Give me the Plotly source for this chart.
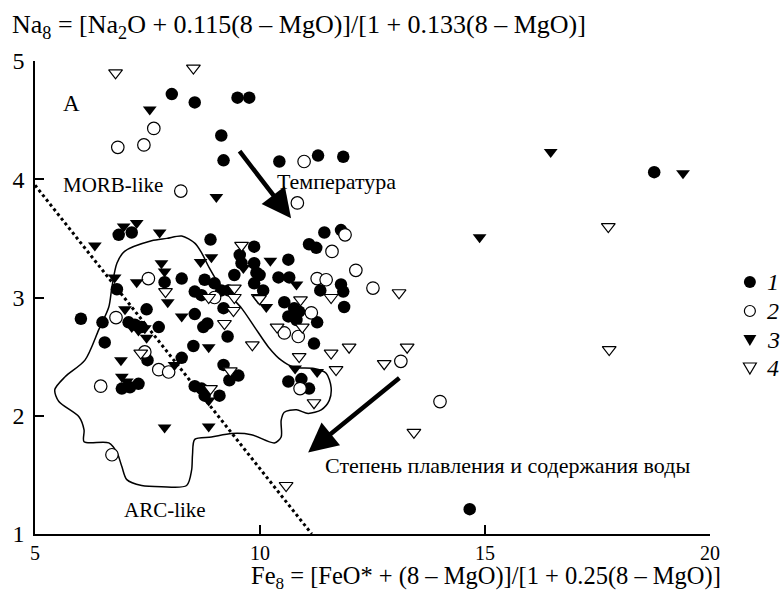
import plotly.graph_objects as go

# ---------------- data ----------------
s1_x = [8.04, 8.55, 9.50, 9.76, 9.14, 9.19, 10.43, 11.29, 11.85,
        6.86, 7.15, 8.90, 9.87, 11.43, 11.80, 11.09, 11.25,
        9.55, 9.59, 9.87, 9.92, 6.82, 7.88, 8.26, 8.77, 8.99,
        8.55, 8.70, 9.14, 9.30, 9.43, 9.87, 10.63, 9.99, 10.41, 10.65,
        10.07, 11.34, 11.80, 11.85, 11.87, 10.54, 10.76, 10.87, 10.63, 10.81,
        11.27, 11.20,
        6.02, 6.50, 7.48, 7.08, 7.22, 7.37, 7.75, 8.55, 8.74, 8.83, 9.19, 9.28,
        6.55, 8.52, 7.50, 8.26, 9.19, 9.52, 9.32, 6.93, 7.11, 7.30, 8.55, 8.70, 8.77, 9.10,
        10.63, 10.92, 11.09, 14.66, 18.76]
s1_y = [4.72, 4.65, 4.69, 4.69, 4.37, 4.16, 4.15, 4.20, 4.19,
        3.53, 3.55, 3.49, 3.43, 3.55, 3.57, 3.45, 3.42,
        3.36, 3.29, 3.29, 3.21, 3.07, 3.13, 3.16, 3.15, 3.12,
        3.05, 3.02, 3.06, 3.06, 3.19, 3.12, 3.32, 3.19, 3.17, 3.17,
        3.06, 3.06, 3.11, 3.05, 2.92, 2.96, 2.91, 2.88, 2.84, 2.81,
        2.79, 2.61,
        2.82, 2.79, 2.90, 2.79, 2.77, 2.75, 2.75, 2.86, 2.75, 2.78, 2.91, 2.67,
        2.62, 2.59, 2.47, 2.49, 2.43, 2.34, 2.30, 2.23, 2.24, 2.27, 2.25, 2.23, 2.17, 2.17,
        2.29, 2.31, 2.23, 1.21, 4.06]

s2_x = [7.64, 6.84, 7.42, 8.24, 10.98, 10.83, 11.89, 11.60, 12.13, 12.51,
        7.52, 8.99, 11.27, 11.47, 11.14, 10.54, 10.85, 6.80, 7.44, 7.75, 7.97,
        6.46, 10.89, 13.13, 14.00, 6.71]
s2_y = [4.43, 4.27, 4.29, 3.90, 4.15, 3.80, 3.53, 3.39, 3.23, 3.08,
        3.16, 3.00, 3.16, 3.15, 2.87, 2.70, 2.67, 2.83, 2.54, 2.39, 2.37,
        2.25, 2.23, 2.46, 2.12, 1.67]

s3_x = [7.55, 9.03, 6.97, 7.26, 7.77, 6.33, 16.46, 19.40, 14.88,
        6.77, 7.26, 7.81, 7.88, 7.95, 8.68, 8.92, 9.63, 10.23, 10.81, 10.14,
        7.00, 7.15, 7.30, 7.44, 7.48, 8.26, 8.86, 6.91, 8.10, 6.93, 7.04, 8.86,
        7.88, 8.86, 10.78, 11.27]
s3_y = [4.59, 3.85, 3.60, 3.63, 3.55, 3.44, 4.23, 4.05, 3.51,
        3.17, 3.13, 3.29, 3.22, 2.96, 3.30, 3.34, 3.25, 3.31, 3.11, 2.92,
        2.90, 2.75, 2.72, 2.74, 2.66, 2.84, 2.58, 2.47, 2.43, 2.33, 2.29, 2.13,
        1.90, 1.91, 2.40, 2.37]

s4_x = [6.79, 8.52, 9.59, 17.74, 17.76, 13.09, 7.90, 8.86, 9.43, 9.43, 9.96,
        9.21, 9.41, 9.83, 7.35, 9.34, 8.90, 11.58, 9.99, 10.90, 10.38, 10.94,
        10.87, 11.58, 11.98, 13.27, 12.76, 11.69, 11.20, 13.42, 10.58]
s4_y = [4.90, 4.94, 3.44, 3.60, 2.56, 3.04, 3.05, 3.00, 3.08, 3.00, 3.00,
        2.78, 2.89, 2.60, 2.53, 2.38, 2.23, 3.00, 2.99, 2.98, 2.75, 2.75,
        2.50, 2.53, 2.58, 2.58, 2.44, 2.39, 2.11, 1.86, 1.41]

legend_labels = ["1", "2", "3", "4"]

# ARC-like field outline
arc_x = [8.26, 8.55, 8.70, 8.86, 9.08, 9.37, 9.59, 9.88, 10.19, 10.47, 10.76,
         11.20, 11.47, 11.58, 11.54, 11.36, 11.07, 10.81, 10.54, 10.47, 10.47,
         10.32, 9.81, 9.37, 8.92, 8.55, 8.50, 8.48, 8.37, 7.81, 7.37, 7.04,
         6.93, 6.82, 6.64, 6.09, 6.09, 5.98, 5.53, 5.44, 5.67, 6.11, 6.42,
         6.64, 6.71, 6.82, 6.99, 7.59, 7.93, 8.26]
arc_y = [3.52, 3.46, 3.38, 3.26, 3.12, 3.00, 2.91, 2.75, 2.58, 2.47, 2.41,
         2.40, 2.36, 2.24, 2.13, 2.05, 2.02, 2.05, 2.03, 1.96, 1.82,
         1.77, 1.84, 1.85, 1.82, 1.80, 1.67, 1.54, 1.41, 1.40, 1.41, 1.46,
         1.57, 1.69, 1.77, 1.78, 1.88, 1.99, 2.12, 2.22, 2.33, 2.47, 2.73,
         2.92, 3.09, 3.29, 3.39, 3.48, 3.50, 3.52]

# MORB / ARC dividing line
div_x = [5.0, 11.15]
div_y = [3.95, 1.0]

# arrows: (start_x, start_y, end_x, end_y)
temp_arrow = [9.52, 4.25, 10.69, 3.67]
melt_arrow = [13.13, 2.33, 11.07, 1.69]

serif = "Liberation Serif, Times New Roman, serif"

# ---------------- page geometry (pixels) ----------------
W, H = 783, 594
ML, MR, MT, MB = 33, 73, 61, 60
PW, PH = W - ML - MR, H - MT - MB


def px2paper(px, py):
    return (px - ML) / PW, (H - MB - py) / PH


fig = go.Figure()

fig.add_trace(go.Scatter(x=arc_x, y=arc_y, mode="lines",
                         line=dict(color="black", width=1.5, shape="spline", smoothing=0.8),
                         showlegend=False, hoverinfo="skip"))
fig.add_trace(go.Scatter(x=div_x, y=div_y, mode="lines",
                         line=dict(color="black", width=3, dash="dot"),
                         showlegend=False, hoverinfo="skip"))

csize = 12.5
tsize = 12
fig.add_trace(go.Scatter(x=s1_x, y=s1_y, mode="markers", name="1", showlegend=False,
                         marker=dict(symbol="circle", size=csize, color="black",
                                     line=dict(width=0))))
fig.add_trace(go.Scatter(x=s2_x, y=s2_y, mode="markers", name="2", showlegend=False,
                         marker=dict(symbol="circle", size=csize, color="white",
                                     line=dict(color="black", width=1.2))))
fig.add_trace(go.Scatter(x=s3_x, y=s3_y, mode="markers", name="3", showlegend=False,
                         marker=dict(symbol="triangle-down", size=tsize, color="black",
                                     line=dict(width=0))))
fig.add_trace(go.Scatter(x=s4_x, y=s4_y, mode="markers", name="4", showlegend=False,
                         marker=dict(symbol="triangle-down", size=tsize, color="white",
                                     line=dict(color="black", width=1.2))))

annotations = [
    dict(x=temp_arrow[2], y=temp_arrow[3], ax=temp_arrow[0], ay=temp_arrow[1],
         xref="x", yref="y", axref="x", ayref="y", text="", showarrow=True,
         arrowhead=2, arrowsize=1.3, arrowwidth=4.5, arrowcolor="black"),
    dict(x=melt_arrow[2], y=melt_arrow[3], ax=melt_arrow[0], ay=melt_arrow[1],
         xref="x", yref="y", axref="x", ayref="y", text="", showarrow=True,
         arrowhead=2, arrowsize=1.3, arrowwidth=4.5, arrowcolor="black"),
    dict(x=5.82, y=4.64, xref="x", yref="y", text="A", showarrow=False,
         font=dict(family=serif, size=23, color="black")),
    dict(x=6.73, y=3.95, xref="x", yref="y", text="MORB-like", showarrow=False,
         font=dict(family=serif, size=21, color="black")),
    dict(x=11.70, y=3.98, xref="x", yref="y", text="Температура", showarrow=False,
         font=dict(family=serif, size=22, color="black")),
    dict(x=11.40, y=1.58, xref="x", yref="y", text="Степень плавления и содержания воды",
         showarrow=False, xanchor="left", font=dict(family=serif, size=22, color="black")),
    dict(x=7.88, y=1.20, xref="x", yref="y", text="ARC-like", showarrow=False,
         font=dict(family=serif, size=21, color="black")),
]
xt_x, xt_y = px2paper(722, 594)
annotations.append(dict(x=xt_x, y=xt_y, xref="paper", yref="paper", xanchor="right",
                        yanchor="bottom", showarrow=False, borderpad=0,
                        text="Fe<sub>8</sub> = [FeO* + (8 – MgO)]/[1 + 0.25(8 – MgO)]",
                        font=dict(family=serif, size=24.5, color="black")))

# ---------------- hand-placed legend ----------------
shapes = []
leg_px, leg_py = 750, [282, 311, 340, 368]
for i, lab in enumerate(legend_labels):
    py = leg_py[i]
    if i < 2:
        r = 6 if i == 0 else 5.5
        x0, y0 = px2paper(leg_px - r, py + r)
        x1, y1 = px2paper(leg_px + r, py - r)
        shapes.append(dict(type="circle", xref="paper", yref="paper",
                           x0=x0, y0=y0, x1=x1, y1=y1,
                           fillcolor="black" if i == 0 else "white",
                           line=dict(color="black", width=0 if i == 0 else 1.2)))
    else:
        ax_, ay_ = px2paper(leg_px - 6.5, py - 5)
        bx_, by_ = px2paper(leg_px + 6.5, py - 5)
        cx_, cy_ = px2paper(leg_px, py + 6)
        shapes.append(dict(type="path", xref="paper", yref="paper",
                           path=f"M {ax_},{ay_} L {bx_},{by_} L {cx_},{cy_} Z",
                           fillcolor="black" if i == 2 else "white",
                           line=dict(color="black", width=0 if i == 2 else 1.2)))
    tx, ty = px2paper(765, py)
    annotations.append(dict(x=tx, y=ty, xref="paper", yref="paper", xanchor="left",
                            yanchor="middle", showarrow=False, text=f"<i>{lab}</i>",
                            font=dict(family=serif, size=24, color="black")))

fig.update_layout(
    width=W, height=H,
    margin=dict(l=ML, r=MR, t=MT, b=MB),
    paper_bgcolor="white", plot_bgcolor="white",
    font=dict(family=serif, color="black"),
    showlegend=False,
    title=dict(text="Na<sub>8</sub> = [Na<sub>2</sub>O + 0.115(8 – MgO)]/[1 + 0.133(8 – MgO)]",
               x=12 / W, xanchor="left", xref="container",
               y=1 - 24 / H, yanchor="middle", yref="container",
               font=dict(family=serif, size=26, color="black")),
    xaxis=dict(range=[5, 20], tickvals=[5, 10, 15, 20], showgrid=False, zeroline=False,
               showline=True, linecolor="black", linewidth=1.5, ticks="inside",
               ticklen=9, tickwidth=1.5, tickcolor="black",
               tickfont=dict(family=serif, size=20, color="black")),
    yaxis=dict(range=[1, 5], tickvals=[1, 2, 3, 4, 5], showgrid=False, zeroline=False,
               showline=True, linecolor="black", linewidth=1.5, ticks="inside",
               ticklen=9, tickwidth=1.5, tickcolor="black", ticklabelstandoff=4,
               tickfont=dict(family=serif, size=24, color="black")),
    shapes=shapes,
    annotations=annotations,
)

fig.write_html("out.html")
